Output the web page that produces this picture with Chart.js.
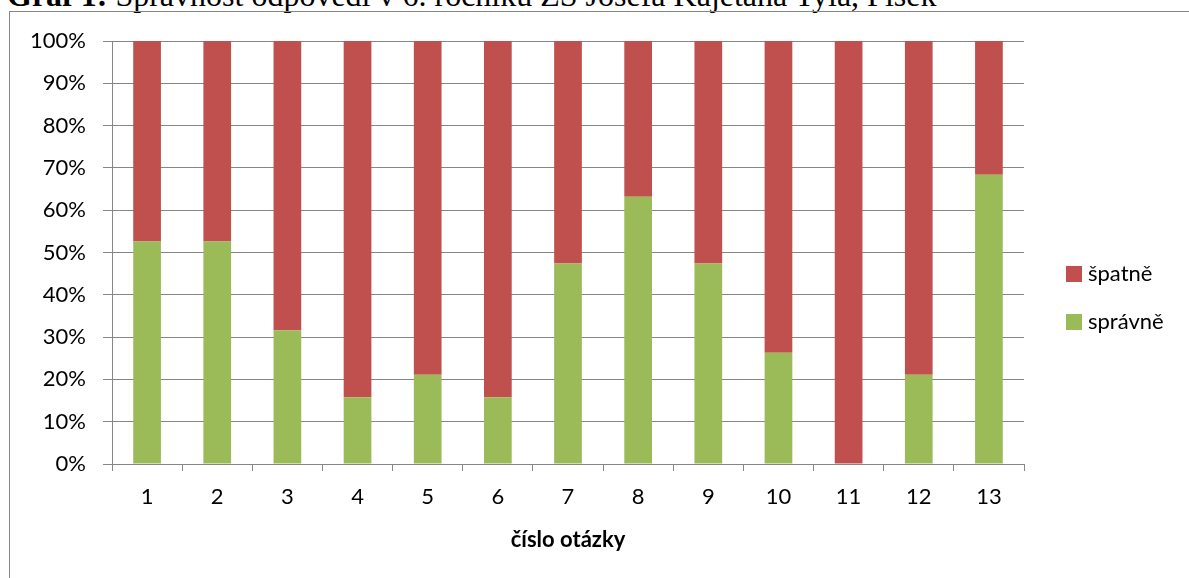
<!DOCTYPE html>
<html lang="cs">
<head>
<meta charset="utf-8">
<title>Graf 1</title>
<script src="https://cdn.jsdelivr.net/npm/chart.js@4/dist/chart.umd.min.js"></script>
<style>
  html, body { margin: 0; padding: 0; background: #ffffff; overflow: hidden; }
  #page { position: relative; width: 1189px; height: 578px; overflow: hidden; }
  #caption {
    position: absolute; left: 7px; top: -21px; white-space: nowrap;
    font-family: "Liberation Serif", "Times New Roman", serif; font-size: 32px; line-height: 1; color: #000;
  }
  #frame {
    position: absolute; left: 9px; top: 11px; width: 1400px; height: 800px;
    border: 1px solid #868686; box-sizing: border-box;
  }
  #chart { position: absolute; left: 0; top: 0; }
</style>
</head>
<body>
<div id="page">
  <div id="caption"><b>Graf 1:</b> Správnost odpovědí v 6. ročníku ZŠ Josefa Kajetána Tyla, Písek</div>
  <div id="frame"></div>
  <canvas id="chart" width="1189" height="578"></canvas>
</div>
<script>
// question numbers on the x axis
const questions = ['1', '2', '3', '4', '5', '6', '7', '8', '9', '10', '11', '12', '13'];
// share of correct answers per question (%)
const spravne = [52.6, 52.6, 31.6, 15.8, 21.1, 15.8, 47.4, 63.2, 47.4, 26.3, 0, 21.1, 68.4];
// share of wrong answers per question (%)
const spatne = [47.4, 47.4, 68.4, 84.2, 78.9, 84.2, 52.6, 36.8, 52.6, 73.7, 100, 78.9, 31.6];
// y axis tick values (%)
const yTicks = [0, 10, 20, 30, 40, 50, 60, 70, 80, 90, 100];

const GRID = '#868686';
const FONT = 'Lato, "Liberation Sans", sans-serif';

// legend drawn beside the plot, top entry = last dataset
const sideLegend = {
  id: 'sideLegend',
  afterDraw(chart) {
    const { ctx, chartArea } = chart;
    const items = chart.data.datasets.map((d) => ({ label: d.label, color: d.backgroundColor })).reverse();
    const x = chartArea.right + 42;
    let y = 274;
    ctx.save();
    ctx.font = '22px ' + FONT;
    ctx.textBaseline = 'middle';
    ctx.textAlign = 'left';
    items.forEach((it) => {
      ctx.fillStyle = it.color;
      ctx.fillRect(x, y - 8, 16, 16);
      ctx.fillStyle = '#000';
      ctx.fillText(it.label, x + 22, y);
      y += 48;
    });
    ctx.restore();
  }
};

new Chart(document.getElementById('chart'), {
  type: 'bar',
  data: {
    labels: questions,
    datasets: [
      { label: 'správně', data: spravne, backgroundColor: '#9BBB59', borderWidth: 0 },
      { label: 'špatně', data: spatne, backgroundColor: '#C0504D', borderWidth: 0 }
    ]
  },
  options: {
    responsive: false,
    animation: false,
    devicePixelRatio: 1,
    layout: { padding: { left: 0, top: 41, right: 165, bottom: 0 } },
    datasets: { bar: { categoryPercentage: 1, barPercentage: 0.395 } },
    plugins: { legend: { display: false }, tooltip: { enabled: false } },
    scales: {
      x: {
        stacked: true,
        afterFit(scale) { scale.height = 114; },
        grid: { offset: true, drawOnChartArea: false, drawTicks: true, tickLength: 7, color: GRID },
        border: { color: GRID, width: 1 },
        ticks: { color: '#000', font: { family: FONT, size: 22 }, padding: 13 },
        title: {
          display: true, text: 'číslo otázky', color: '#000',
          font: { family: FONT, size: 22, weight: 'bold' },
          padding: { top: 0, bottom: 25 }
        }
      },
      y: {
        stacked: true,
        min: 0, max: 100,
        afterFit(scale) { scale.width = 112; },
        afterBuildTicks(scale) { scale.ticks = yTicks.map((v) => ({ value: v })); },
        grid: { color: GRID, tickLength: 9, drawTicks: true },
        border: { color: GRID, width: 1 },
        ticks: {
          color: '#000', font: { family: FONT, size: 22 }, padding: 17,
          callback: (v) => v + '%'
        }
      }
    }
  },
  plugins: [sideLegend]
});
</script>
</body>
</html>
